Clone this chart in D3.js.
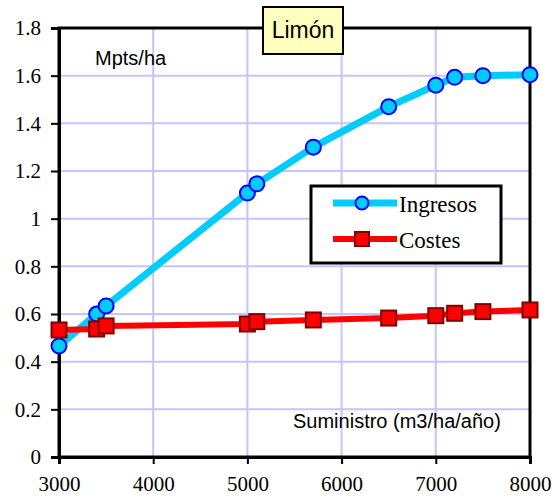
<!DOCTYPE html>
<html>
<head>
<meta charset="utf-8">
<script src="https://cdn.jsdelivr.net/npm/d3@7"></script>
<style>
  body { margin: 0; background: #fff; }
  svg { display: block; }
</style>
</head>
<body>
<svg width="553" height="504"></svg>
<script>
// data
var suministro = [3000, 3400, 3500, 5000, 5100, 5700, 6500, 7000, 7200, 7500, 8000];
var ingresos   = [0.466, 0.60, 0.634, 1.108, 1.146, 1.30, 1.47, 1.56, 1.593, 1.60, 1.604];
var costes     = [0.533, 0.537, 0.55, 0.558, 0.568, 0.575, 0.583, 0.593, 0.603, 0.61, 0.617];
var xTicks = [3000, 4000, 5000, 6000, 7000, 8000];
var yTicks = [0, 0.2, 0.4, 0.6, 0.8, 1, 1.2, 1.4, 1.6, 1.8];
var title = "Limón";
var yLabel = "Mpts/ha";
var xLabel = "Suministro (m3/ha/año)";
var seriesNames = ["Ingresos", "Costes"];

var svg = d3.select("svg");
var pLeft = 59, pRight = 530, pTop = 28, pBottom = 457;

var x = d3.scaleLinear().domain([3000, 8000]).range([pLeft, pRight]);
var y = d3.scaleLinear().domain([0, 1.8]).range([pBottom, pTop]);

var serif = "'Liberation Serif', 'Times New Roman', serif";
var sans = "'Liberation Sans', Arial, sans-serif";

// grid
var grid = svg.append("g");
grid.selectAll("line.v").data(xTicks).enter().append("line")
    .attr("x1", d => x(d)).attr("x2", d => x(d))
    .attr("y1", pTop).attr("y2", pBottom)
    .attr("stroke", "#c4c4ff").attr("stroke-width", 2);
grid.selectAll("line.h").data(yTicks).enter().append("line")
    .attr("x1", pLeft).attr("x2", pRight)
    .attr("y1", d => y(d)).attr("y2", d => y(d))
    .attr("stroke", "#c4c4ff").attr("stroke-width", 2);

// frame
svg.append("rect")
    .attr("x", pLeft).attr("y", pTop)
    .attr("width", pRight - pLeft).attr("height", pBottom - pTop)
    .attr("fill", "none").attr("stroke", "#000").attr("stroke-width", 3);

// axes
var yAxis = svg.append("g")
    .attr("transform", "translate(" + pLeft + ",0)")
    .call(d3.axisLeft(y).tickValues(yTicks).tickSize(8).tickPadding(10)
      .tickFormat(d => String(+d.toFixed(1))));
var xAxis = svg.append("g")
    .attr("transform", "translate(0," + pBottom + ")")
    .call(d3.axisBottom(x).tickValues(xTicks).tickSize(7).tickPadding(12)
      .tickFormat(d3.format("d")));
[yAxis, xAxis].forEach(function(a) {
  a.attr("font-family", null).attr("font-size", null);
  a.select(".domain").attr("stroke", "#000").attr("stroke-width", 3);
  a.selectAll(".tick line").attr("stroke", "#000").attr("stroke-width", 2);
  a.selectAll("text").style("font-family", serif).style("font-size", "21px").attr("fill", "#000");
});

// series: Ingresos first, Costes drawn on top
var line = d3.line().x(d => x(d[0])).y(d => y(d[1]));
var ingData = suministro.map((s, i) => [s, ingresos[i]]);
var cosData = suministro.map((s, i) => [s, costes[i]]);

svg.append("path").datum(ingData).attr("d", line)
    .attr("fill", "none").attr("stroke", "#00ccff").attr("stroke-width", 7)
    .attr("stroke-linejoin", "round");
svg.append("g").selectAll("circle").data(ingData).enter().append("circle")
    .attr("cx", d => x(d[0])).attr("cy", d => y(d[1])).attr("r", 7.5)
    .attr("fill", "#00ccff").attr("stroke", "#0000ff").attr("stroke-width", 2);

svg.append("path").datum(cosData).attr("d", line)
    .attr("fill", "none").attr("stroke", "#ff0000").attr("stroke-width", 6)
    .attr("stroke-linejoin", "round");
svg.append("g").selectAll("rect").data(cosData).enter().append("rect")
    .attr("x", d => x(d[0]) - 7.5).attr("y", d => y(d[1]) - 7.5)
    .attr("width", 15).attr("height", 15)
    .attr("fill", "#ff0000").attr("stroke", "#800000").attr("stroke-width", 2);

// axis captions
svg.append("text").attr("x", 95).attr("y", 65)
    .style("font-family", sans).style("font-size", "20px").text(yLabel);
svg.append("text").attr("x", 293).attr("y", 428)
    .style("font-family", sans).style("font-size", "20px").text(xLabel);

// title box
svg.append("rect").attr("x", 263).attr("y", 7).attr("width", 80).attr("height", 47)
    .attr("fill", "#ffffc0").attr("stroke", "#000").attr("stroke-width", 2);
svg.append("text").attr("x", 303).attr("y", 38).attr("text-anchor", "middle")
    .style("font-family", sans).style("font-size", "23px").text(title);

// legend
var lg = svg.append("g");
lg.append("rect").attr("x", 311).attr("y", 186).attr("width", 190).attr("height", 77)
    .attr("fill", "#fff").attr("stroke", "#000").attr("stroke-width", 3);
var legY = [203, 239];
lg.append("line").attr("x1", 333).attr("x2", 397).attr("y1", legY[0]).attr("y2", legY[0])
    .attr("stroke", "#00ccff").attr("stroke-width", 7);
lg.append("circle").attr("cx", 362).attr("cy", legY[0]).attr("r", 6.5)
    .attr("fill", "#00ccff").attr("stroke", "#0000ff").attr("stroke-width", 2);
lg.append("line").attr("x1", 333).attr("x2", 397).attr("y1", legY[1]).attr("y2", legY[1])
    .attr("stroke", "#ff0000").attr("stroke-width", 6);
lg.append("rect").attr("x", 355).attr("y", legY[1] - 7).attr("width", 14).attr("height", 14)
    .attr("fill", "#ff0000").attr("stroke", "#800000").attr("stroke-width", 2);
lg.selectAll("text").data(seriesNames).enter().append("text")
    .attr("x", 399).attr("y", (d, i) => legY[i] + 9)
    .style("font-family", serif).style("font-size", "23px").text(d => d);
</script>
</body>
</html>
